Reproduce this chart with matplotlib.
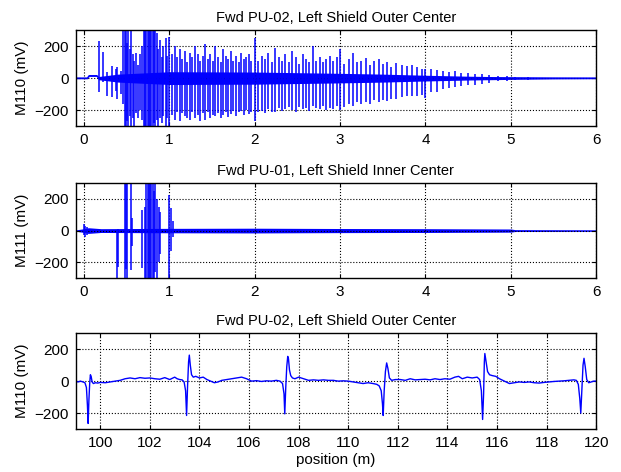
import numpy as np
import matplotlib
matplotlib.use("Agg")
import matplotlib.pyplot as plt

plt.rcParams['font.family'] = ['Liberation Sans', 'DejaVu Sans']
plt.rcParams['font.size'] = 11

# --- panel 1: M110, spikes (position, peak up, peak down)
p1_pos = [0.17, 0.22, 0.27, 0.33, 0.37, 0.39, 0.43, 0.46, 0.475, 0.49,
          0.505, 0.52, 0.535, 0.55, 0.57, 0.59, 0.61, 0.63, 0.65, 0.68,
          0.70, 0.715, 0.73, 0.745, 0.76, 0.775, 0.79, 0.805, 0.82, 0.835,
          0.85, 0.87, 0.89, 0.91, 0.93, 0.955, 0.975, 1.00, 1.03, 1.06,
          1.09, 1.12, 1.15, 1.18, 1.21, 1.24, 1.27, 1.30, 1.33, 1.36,
          1.39, 1.42, 1.45, 1.48, 1.51, 1.54, 1.57, 1.60, 1.63, 1.66,
          1.69, 1.72, 1.75, 1.78, 1.81, 1.84, 1.87, 1.90, 1.93, 1.96,
          2.00, 2.04, 2.08, 2.12, 2.16, 2.20, 2.24, 2.28, 2.32, 2.36,
          2.40, 2.44, 2.48, 2.52, 2.56, 2.60, 2.64, 2.68, 2.72, 2.76,
          2.80, 2.84, 2.88, 2.92, 2.96, 3.00, 3.05, 3.10, 3.15, 3.20,
          3.25, 3.30, 3.35, 3.40, 3.45, 3.50, 3.55, 3.60, 3.66, 3.72,
          3.78, 3.84, 3.90, 3.96, 4.00, 4.07, 4.14, 4.21, 4.28, 4.35,
          4.42, 4.50, 4.58, 4.66, 4.75, 4.85, 4.95, 5.05, 5.20]
p1_hi = [235, 165, 40, 75, 60, 70, 45, 300, 300, 300,
         220, 300, 180, 300, 150, 110, 160, 80, 150, 200,
         300, 300, 300, 300, 300, 300, 300, 300, 300, 300,
         280, 180, 240, 130, 200, 250, 140, 260, 150, 200,
         130, 180, 120, 170, 100, 160, 130, 200, 150, 110,
         140, 215, 120, 150, 110, 200, 130, 100, 180, 140,
         120, 170, 110, 140, 100, 160, 120, 130, 150, 110,
         250, 110, 140, 120, 160, 100, 190, 130, 110, 150,
         100, 170, 130, 90, 150, 120, 100, 200, 110, 130,
         100, 120, 140, 110, 130, 180, 90, 120, 155, 100,
         110, 125, 80, 110, 120, 90, 100, 70, 95, 80,
         75, 80, 70, 60, 56, 60, 50, 45, 40, 42,
         35, 30, 27, 25, 20, 15, 12, 10, 8]
p1_lo = [-90, -25, -110, -120, -80, -130, -100, -160, -300, -300,
         -270, -300, -240, -300, -250, -300, -220, -250, -200, -260,
         -300, -300, -300, -300, -300, -300, -300, -300, -280, -300,
         -260, -300, -250, -280, -240, -300, -250, -300, -230, -260,
         -210, -270, -220, -240, -250, -260, -210, -250, -230, -270,
         -220, -260, -210, -250, -230, -240, -220, -250, -230, -210,
         -245, -225, -205, -235, -215, -205, -230, -200, -225, -210,
         -270, -215, -205, -220, -195, -210, -215, -190, -205, -195,
         -180, -200, -210, -180, -195, -185, -205, -175, -185, -195,
         -175, -200, -185, -195, -175, -200, -180, -165, -175, -150,
         -165, -150, -160, -140, -150, -135, -145, -130, -130, -120,
         -115, -110, -115, -105, -125, -90, -85, -70, -65, -56,
         -50, -45, -42, -35, -28, -20, -15, -12, -10]

# noise band around the zero line (position, level, half width)
b1_pos = [-0.1, 0.04, 0.06, 0.15, 0.17, 0.4, 1.0, 2.0, 3.0, 3.5, 4.0, 4.5, 5.0, 5.5, 6.0]
b1_mid = [0, 0, 15, 15, 0, 0, 0, 0, 0, 0, 0, 0, 0, 0, 0]
b1_hw = [4, 4, 4, 4, 10, 25, 40, 38, 30, 25, 18, 12, 8, 5, 4]

# --- panel 2: M111
p2_pos = [0.005, 0.015, 0.03, 0.386, 0.40, 0.475, 0.49, 0.505, 0.545, 0.56,
          0.675, 0.71, 0.73, 0.745, 0.76, 0.775, 0.79, 0.805, 0.82, 0.835,
          0.855, 0.875, 0.895, 0.995, 1.02, 1.04]
p2_hi = [40, 30, 20, 0, 10, 300, 300, 300, 300, 80,
         130, 150, 300, 300, 300, 300, 300, 300, 250, 300,
         200, 150, 120, 225, 140, 60]
p2_lo = [-30, -40, -25, -300, -230, -300, -240, -300, -250, -100,
         -235, -300, -300, -300, -300, -300, -300, -300, -300, -260,
         -300, -200, -150, -300, -130, -40]

b2_pos = [-0.1, 0.0, 0.05, 0.2, 1.0, 2.0, 3.0, 4.0, 5.0, 5.05, 6.0]
b2_hw = [4, 12, 18, 12, 14, 15, 13, 12, 10, 6, 5]

# --- panel 3: M110 zoomed, position (m) vs mV
pos3 = [99.0, 99.1, 99.2, 99.3, 99.38, 99.44, 99.48, 99.51, 99.54, 99.57,
        99.6, 99.63, 99.67, 99.72, 99.8, 99.9, 100.0, 100.2, 100.4, 100.6,
        100.8, 101.0, 101.2, 101.4, 101.6, 101.8, 102.0, 102.2, 102.4, 102.6,
        102.8, 103.0, 103.1, 103.2, 103.3, 103.38, 103.44, 103.48, 103.52, 103.56,
        103.59, 103.63, 103.68, 103.75, 103.85, 104.0, 104.15, 104.3, 104.45, 104.6,
        104.75, 104.9, 105.1, 105.3, 105.5, 105.7, 105.9, 106.1, 106.3, 106.5,
        106.7, 106.9, 107.1, 107.25, 107.35, 107.41, 107.44, 107.48, 107.52, 107.56,
        107.59, 107.63, 107.68, 107.75, 107.85, 108.0, 108.2, 108.4, 108.6, 108.8,
        109.0, 109.2, 109.4, 109.6, 109.8, 110.0, 110.2, 110.4, 110.6, 110.8,
        111.0, 111.15, 111.25, 111.33, 111.38, 111.41, 111.45, 111.5, 111.55, 111.6,
        111.66, 111.75, 111.9, 112.1, 112.3, 112.5, 112.7, 112.9, 113.1, 113.3,
        113.5, 113.7, 113.9, 114.1, 114.3, 114.45, 114.6, 114.8, 115.0, 115.2,
        115.3, 115.37, 115.42, 115.46, 115.49, 115.51, 115.56, 115.62, 115.7, 115.8,
        115.95, 116.1, 116.3, 116.5, 116.7, 116.9, 117.1, 117.3, 117.5, 117.7,
        117.9, 118.1, 118.3, 118.5, 118.7, 118.9, 119.1, 119.2, 119.28, 119.34,
        119.38, 119.42, 119.47, 119.51, 119.56, 119.62, 119.7, 119.8, 119.9, 120.0]
mv3 = [0, -5, 0, -5, -10, -40, -150, -265, -120, -20,
       40, 30, -5, -15, -10, -12, -8, -10, -5, 0,
       5, 15, 20, 15, 22, 18, 20, 15, 12, 22,
       10, 25, 15, 10, 8, -5, -60, -215, -30, 120,
       163, 100, 40, 25, 30, 20, 25, 10, 0, -10,
       -5, 5, 10, 15, 20, 25, 15, 0, 3, -2,
       2, 0, 5, 0, -15, -80, -205, -40, 90, 155,
       140, 70, 35, 20, 15, 25, 15, 5, 8, 5,
       8, 5, 5, 0, 2, 0, -5, -10, -15, -10,
       -15, -20, -30, -60, -140, -215, -60, 60, 114, 80,
       20, 5, 10, 10, 5, 15, 8, 10, 12, 8,
       15, 10, 15, 12, 25, 30, 15, 25, 20, 25,
       10, -60, -240, -80, 120, 173, 120, 60, 40, 35,
       30, 15, 0, -15, -10, -5, -8, -5, -10, -12,
       -8, -5, -2, 0, 2, 5, 8, 5, -20, -110,
       -200, -60, 100, 143, 90, 10, -10, -5, 0, 0]

titles = ["Fwd PU-02, Left Shield Outer Center",
          "Fwd PU-01, Left Shield Inner Center",
          "Fwd PU-02, Left Shield Outer Center"]
ylabels = ["M110 (mV)", "M111 (mV)", "M110 (mV)"]

fig = plt.figure(figsize=(6.21, 4.72), dpi=100)
rects = [[0.1216, 0.733, 0.8384, 0.203],
         [0.1216, 0.411, 0.8384, 0.201],
         [0.1216, 0.091, 0.8384, 0.203]]
axs = [fig.add_axes(r) for r in rects]

blue = '#0000ff'

ax = axs[0]
ax.fill_between(b1_pos, np.array(b1_mid) - np.array(b1_hw), np.array(b1_mid) + np.array(b1_hw),
                color=blue, lw=0)
ax.plot(b1_pos, b1_mid, color=blue, lw=1)
ax.vlines(p1_pos, p1_lo, p1_hi, color=blue, lw=1.1)
ax.set_xlim(-0.1, 6)

ax = axs[1]
ax.fill_between(b2_pos, -np.array(b2_hw), b2_hw, color=blue, lw=0)
ax.vlines(p2_pos, p2_lo, p2_hi, color=blue, lw=1.1)
ax.set_xlim(-0.1, 6)

ax = axs[2]
ax.plot(pos3, mv3, color=blue, lw=1)
ax.set_xlim(99, 120)
ax.set_xticks(np.arange(100, 121, 2))
ax.set_xlabel("position (m)", labelpad=2)

for ax, t, yl in zip(axs, titles, ylabels):
    ax.set_ylim(-300, 300)
    ax.set_yticks([-200, 0, 200])
    ax.set_title(t, fontsize=10.5, pad=6)
    ax.set_ylabel(yl, labelpad=4)
    ax.grid(True, color='k', ls=':', lw=0.8)
    ax.tick_params(direction='in', top=True, right=True, length=3, pad=5)
    for s in ax.spines.values():
        s.set_linewidth(1.0)

fig.savefig("out.png", dpi=100)
